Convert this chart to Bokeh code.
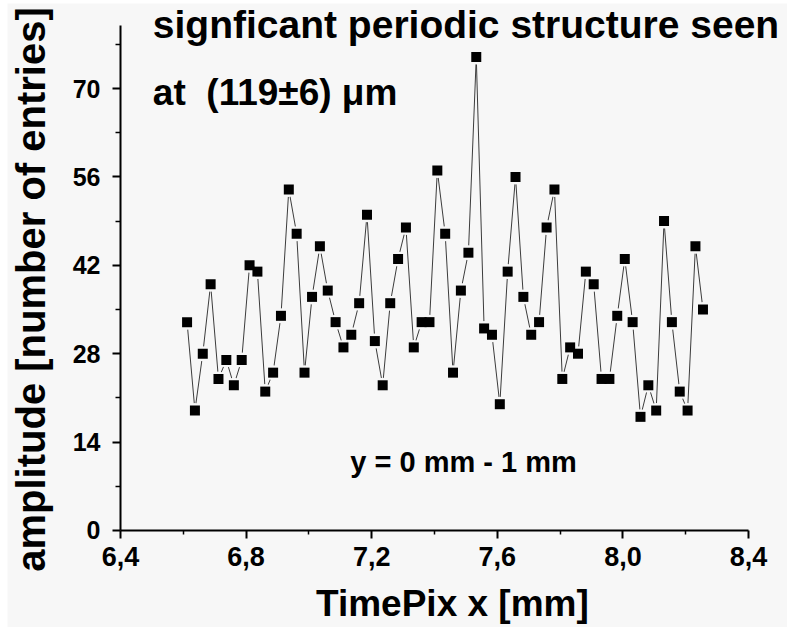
from bokeh.plotting import figure
from bokeh.models import FixedTicker, CustomJSTickFormatter, Label, Range1d, ColumnDataSource
from bokeh.embed import file_html
from bokeh.resources import INLINE

# ---- data ----
x_mm = [6.612, 6.637, 6.662, 6.687, 6.712, 6.737, 6.761, 6.786, 6.811, 6.836,
        6.861, 6.886, 6.911, 6.936, 6.961, 6.986, 7.010, 7.035, 7.060, 7.085,
        7.110, 7.135, 7.160, 7.185, 7.210, 7.235, 7.259, 7.284, 7.309, 7.334,
        7.359, 7.384, 7.409, 7.434, 7.459, 7.484, 7.508, 7.533, 7.558, 7.583,
        7.608, 7.633, 7.658, 7.683, 7.708, 7.733, 7.757, 7.782, 7.807, 7.832,
        7.857, 7.882, 7.907, 7.932, 7.957, 7.982, 8.006, 8.031, 8.056, 8.081,
        8.106, 8.131, 8.156, 8.181, 8.206, 8.231, 8.255]
amplitude = [33, 19, 28, 39, 24, 27, 23, 27, 42, 41,
             22, 25, 34, 54, 47, 25, 37, 45, 38, 33,
             29, 31, 36, 50, 30, 23, 36, 43, 48, 29,
             33, 33, 57, 47, 25, 38, 44, 75, 32, 31,
             20, 41, 56, 37, 31, 33, 48, 54, 24, 29,
             28, 41, 39, 24, 24, 34, 43, 33, 18, 23,
             19, 49, 33, 22, 19, 45, 35]

x_ticks = [6.4, 6.8, 7.2, 7.6, 8.0, 8.4]
x_minor = [6.6, 7.0, 7.4, 7.8, 8.2]
y_ticks = [0, 14, 28, 42, 56, 70]
y_minor = [7, 21, 35, 49, 63, 77]

title_line1 = "signficant periodic structure seen"
title_line2 = "at\u00a0 (119\u00b16) \u03bcm"
note_text = "y = 0 mm - 1 mm"
x_label = "TimePix x [mm]"
y_label = "amplitude [number of entries]"

BG = "#f7f7f7"
FONT = "Liberation Sans"

src = ColumnDataSource(data=dict(x=x_mm, y=amplitude))

# frame covers the whole canvas; axes are pinned at x=6.4 and y=0
p = figure(width=780, height=624, output_backend="svg", toolbar_location=None,
           x_range=Range1d(6.0401, 8.5242), y_range=Range1d(-15.363, 83.465),
           min_border_left=0, min_border_right=0, min_border_top=0,
           min_border_bottom=0,
           background_fill_color=BG, border_fill_color=BG,
           outline_line_color=None)
p.margin = (3, 0, 0, 7)
p.xgrid.visible = False
p.ygrid.visible = False

for ax in (p.xaxis[0], p.yaxis[0]):
    ax.axis_line_width = 2
    ax.axis_line_color = "black"
    ax.major_tick_line_width = 2
    ax.major_tick_line_color = "black"
    ax.minor_tick_line_width = 1.5
    ax.minor_tick_line_color = "black"
    ax.major_tick_in = 0
    ax.minor_tick_in = 0
    ax.major_tick_out = 8
    ax.major_label_text_font = FONT
    ax.major_label_text_font_style = "bold"
    ax.major_label_text_color = "black"

p.xaxis.fixed_location = 0
p.xaxis.ticker = FixedTicker(ticks=x_ticks, minor_ticks=x_minor)
p.xaxis.bounds = (6.4, 8.4)
p.xaxis.minor_tick_out = 4
p.xaxis.major_label_text_font_size = "27px"
p.xaxis.major_label_standoff = 9
p.xaxis.formatter = CustomJSTickFormatter(code="return tick.toFixed(1).replace('.', ',');")

p.yaxis.fixed_location = 6.4
p.yaxis.ticker = FixedTicker(ticks=y_ticks, minor_ticks=y_minor)
p.yaxis.bounds = (0, 80)
p.yaxis.minor_tick_out = 5
p.yaxis.major_label_text_font_size = "25px"
p.yaxis.major_label_standoff = 12

p.line("x", "y", source=src, line_color="#3c3c3c", line_width=1)
p.scatter("x", "y", source=src, marker="circle", size=15, fill_color=BG, line_color=None)
p.scatter("x", "y", source=src, marker="square", size=10, fill_color="black", line_color=None)

def lab(x, y, text, size, **kw):
    p.add_layout(Label(x=x, y=y, text=text, text_font=FONT, text_font_style="bold",
                       text_font_size=size, text_color="black", **kw))

lab(6.503, 80.1, title_line1, "39px", text_align="left", text_baseline="alphabetic")
lab(6.503, 69.4, title_line2, "37px", text_align="left", text_baseline="alphabetic")
lab(7.132, 10.9, note_text, "29px", text_align="left", text_baseline="alphabetic")
lab(7.457, -11.5, x_label, "37px", text_align="center", text_baseline="alphabetic")
lab(6.115, 38.17, y_label, "40px", text_align="center", text_baseline="middle",
    angle=1.5707963)

open("out.html", "w").write(file_html(p, INLINE))
